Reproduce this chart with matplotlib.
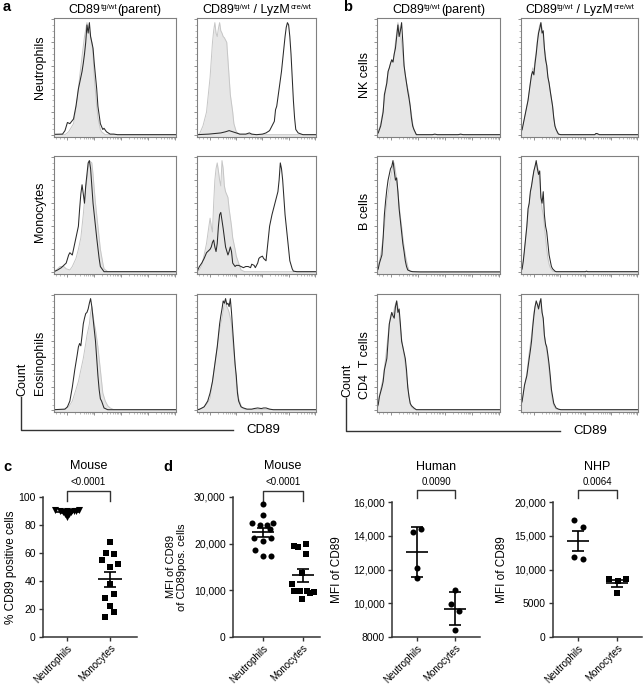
import numpy as np
import matplotlib
matplotlib.use("Agg")
import matplotlib.pyplot as plt
from matplotlib.lines import Line2D

plt.rcParams['font.family'] = ['Liberation Sans', 'DejaVu Sans']

# --- histogram traces: (CD89 position %, count % of max) ---
a_neu_par_fill = [(0,0.5),(9,0.5),(12,3),(16,10),(19,30),(21,50),(23,68),(25,85),(27,97),(28,92),(29,90),(31,80),(32,70),(33,50),(35,25),(36,15),(38,5),(39,3),(42,0.5),(100,0.5)]
a_neu_par_line = [(0,0.8),(7,1),(9,4),(11,11),(13,10),(16,14),(18,25),(20,40),(22,50),(23,55),(24,62),(25,70),(26,80),(27,95),(28,88),(29,97),(30,85),(31,80),(32,75),(33,62),(35,40),(36,25),(38,10),(40,5),(41,6),(43,3),(46,1),(49,1),(52,0.5),(100,0.5)]
a_neu_cre_fill = [(0,0.5),(2,1),(5,8),(8,20),(10,40),(11,50),(12,65),(13,80),(14,90),(15,97),(16,88),(17,85),(18,92),(19,97),(20,90),(21,88),(22,85),(23,84),(25,80),(26,65),(27,50),(28,35),(30,20),(31,10),(33,3),(36,0.5),(100,0.5)]
a_neu_cre_line = [(0,0.5),(10,1),(20,2),(24,3),(27,4),(30,3),(33,2),(36,1),(41,1),(44,2),(46,1),(50,0.5),(55,1),(58,2),(61,4),(63,8),(65,12),(66,22),(67,25),(69,40),(71,55),(72,65),(73,75),(74,85),(75,93),(76,97),(77,95),(78,85),(79,70),(80,50),(81,30),(82,15),(83,5),(85,2),(89,0.5),(100,0.5)]

a_mono_par_fill = [(0,0.5),(3,3),(5,5),(8,5),(10,3),(13,2),(15,5),(18,12),(20,20),(22,30),(23,40),(24,50),(25,62),(26,72),(27,80),(28,90),(29,97),(30,96),(31,95),(32,85),(33,72),(34,60),(36,40),(38,20),(40,8),(41,3),(44,0.5),(100,0.5)]
a_mono_par_line = [(0,0.5),(3,2),(6,4),(8,6),(10,8),(12,15),(13,17),(14,16),(15,15),(17,25),(18,30),(20,40),(21,55),(22,68),(23,76),(24,68),(25,60),(26,75),(27,85),(28,95),(29,97),(30,90),(31,75),(32,60),(33,50),(35,30),(37,12),(38,5),(41,0.5),(100,0.5)]
a_mono_cre_fill = [(0,0.5),(2,2),(4,6),(6,15),(8,25),(10,40),(11,47),(12,40),(13,35),(14,60),(15,80),(16,90),(17,95),(18,88),(19,80),(20,75),(21,97),(22,90),(23,75),(24,70),(26,65),(27,55),(29,40),(30,30),(32,20),(33,14),(35,8),(37,2),(40,0.5),(100,0.5)]
a_mono_cre_line = [(0,0.5),(2,5),(4,8),(6,12),(8,17),(9,18),(11,20),(12,22),(13,26),(14,28),(15,22),(16,18),(17,25),(18,40),(19,50),(20,52),(21,45),(22,38),(23,30),(24,22),(26,15),(27,18),(28,22),(29,18),(30,8),(32,5),(33,6),(35,6),(37,5),(39,4),(41,5),(43,5),(45,4),(46,7),(48,6),(49,4),(51,8),(52,12),(53,13),(55,14),(56,12),(58,10),(59,20),(61,40),(63,50),(65,58),(66,62),(68,70),(69,80),(70,95),(71,90),(72,80),(73,65),(74,50),(75,40),(77,20),(78,10),(80,3),(81,1),(84,0.5),(100,0.5)]

a_eos_par_fill = [(0,0.5),(8,0.5),(12,3),(15,8),(18,18),(20,25),(22,35),(24,45),(26,58),(27,65),(28,70),(29,75),(30,85),(31,90),(32,82),(33,75),(34,70),(36,55),(37,45),(38,35),(39,25),(40,15),(42,8),(44,4),(46,2),(49,0.5),(100,0.5)]
a_eos_par_line = [(0,0.5),(5,0.8),(9,1),(11,3),(13,8),(15,20),(17,35),(19,48),(20,55),(21,58),(22,56),(23,65),(24,75),(25,80),(26,84),(27,85),(28,88),(29,93),(30,97),(31,90),(32,80),(33,70),(34,60),(35,45),(36,30),(37,18),(38,10),(39,8),(41,2),(44,0.5),(100,0.5)]
a_eos_cre_fill = [(0,0.5),(5,2),(8,5),(11,10),(13,25),(15,40),(17,55),(19,70),(21,80),(23,93),(24,95),(25,90),(26,88),(27,85),(28,80),(29,75),(30,62),(31,50),(32,40),(33,25),(35,10),(37,4),(38,2),(41,0.5),(100,0.5)]
a_eos_cre_line = [(0,0.5),(2,0.8),(6,3),(9,8),(11,15),(13,25),(15,40),(17,55),(19,75),(20,82),(21,88),(22,95),(23,93),(24,97),(25,92),(26,93),(27,90),(28,97),(29,85),(30,70),(31,55),(32,40),(33,30),(34,15),(35,8),(37,3),(39,2),(42,1),(46,1),(48,1.5),(51,2),(54,1.5),(56,2),(58,2),(61,1),(64,0.5),(100,0.5)]

b_nk_par_fill = [(0,1),(1,3),(3,10),(5,22),(7,38),(8,48),(10,58),(12,65),(13,63),(14,70),(15,80),(16,88),(17,97),(18,92),(19,88),(20,80),(21,70),(22,60),(23,52),(24,45),(26,35),(27,25),(29,10),(30,5),(32,0.5),(100,0.5)]
b_nk_par_line = [(0,1),(1,2),(3,8),(5,20),(6,35),(8,45),(9,55),(10,58),(11,62),(12,65),(13,63),(14,70),(15,75),(16,85),(17,95),(18,85),(19,90),(20,97),(21,80),(22,60),(23,52),(24,45),(25,38),(26,32),(27,25),(28,15),(29,8),(30,5),(32,0.5),(45,0.5),(47,1),(49,0.5),(66,0.5),(68,1),(70,0.5),(100,0.5)]
b_nk_cre_fill = [(0,2),(2,10),(4,20),(6,30),(8,45),(9,52),(10,58),(11,55),(12,65),(13,72),(14,82),(15,90),(16,95),(17,97),(18,92),(19,85),(20,75),(21,68),(22,60),(23,50),(24,45),(25,38),(27,25),(28,15),(29,8),(31,2),(33,0.5),(100,0.5)]
b_nk_cre_line = [(0,3),(1,5),(3,15),(5,25),(6,30),(8,45),(9,52),(10,55),(11,52),(12,62),(13,70),(14,80),(15,88),(16,92),(17,97),(18,88),(19,90),(20,75),(21,65),(22,60),(23,50),(24,45),(25,38),(27,25),(28,15),(29,8),(30,5),(32,1),(34,0.5),(63,0.5),(64,1.5),(65,1.5),(67,0.5),(100,0.5)]

b_b_par_fill = [(0,2),(1,5),(3,15),(5,30),(7,50),(8,62),(10,75),(11,82),(12,88),(13,93),(14,95),(15,88),(16,80),(17,70),(18,58),(19,48),(20,40),(21,30),(22,22),(23,15),(24,10),(25,5),(26,2),(28,0.5),(100,0.5)]
b_b_par_line = [(0,1),(1,3),(2,8),(4,15),(5,30),(6,50),(7,62),(8,72),(9,80),(10,85),(11,90),(12,92),(13,97),(14,88),(15,80),(16,82),(17,70),(18,55),(19,45),(20,35),(21,25),(22,18),(23,10),(24,5),(25,2),(27,1),(29,0.5),(35,0.3),(100,0.3)]
b_b_cre_fill = [(0,2),(1,4),(3,18),(5,40),(7,58),(8,68),(9,75),(10,80),(11,88),(12,92),(13,95),(14,92),(15,88),(16,80),(17,65),(18,55),(19,50),(20,40),(21,30),(22,20),(23,12),(24,7),(25,4),(27,1),(29,0.5),(100,0.5)]
b_b_cre_line = [(0,1),(1,3),(2,10),(3,20),(5,40),(6,55),(7,60),(8,70),(9,75),(10,82),(11,88),(12,92),(13,97),(14,90),(15,85),(16,88),(17,65),(18,60),(19,70),(20,50),(21,40),(22,35),(23,25),(24,15),(25,10),(26,5),(27,3),(29,1),(30,0.5),(55,0.5),(56,1),(57,0.5),(100,0.5)]

b_cd4_par_fill = [(0,3),(1,8),(3,18),(5,28),(7,45),(8,55),(9,65),(10,75),(11,82),(12,85),(13,82),(14,88),(15,92),(16,95),(17,90),(18,82),(19,72),(20,62),(21,55),(22,48),(23,40),(24,30),(25,22),(26,12),(27,6),(28,3),(30,1),(32,0.5),(100,0.5)]
b_cd4_par_line = [(0,2),(1,5),(2,12),(4,20),(5,25),(6,35),(8,45),(9,60),(10,75),(11,80),(12,85),(13,82),(14,80),(15,90),(16,95),(17,85),(18,88),(19,75),(20,60),(21,55),(22,50),(23,45),(24,35),(25,20),(26,12),(27,6),(28,4),(30,2),(32,0.5),(100,0.5)]
b_cd4_cre_fill = [(0,3),(1,8),(3,20),(5,32),(7,50),(9,65),(10,75),(11,85),(12,90),(13,93),(14,92),(15,90),(16,95),(17,92),(18,85),(19,78),(20,65),(21,58),(22,52),(23,45),(24,35),(25,25),(26,15),(27,8),(28,4),(30,1),(33,0.5),(100,0.5)]
b_cd4_cre_line = [(0,5),(1,8),(3,22),(5,30),(7,45),(8,52),(9,60),(10,72),(11,82),(12,90),(13,95),(14,92),(15,88),(16,93),(17,97),(18,85),(19,80),(20,65),(21,58),(22,55),(23,48),(24,40),(25,30),(26,18),(27,12),(28,6),(30,2),(32,1),(34,0.5),(100,0.5)]

# --- scatter data (value, x jitter) ---
groups = ["Neutrophils", "Monocytes"]
c_neu = [91, 91, 90, 90, 90, 89, 89, 88, 88, 87, 86, 90]
c_neu_dx = [-0.27, 0.27, -0.17, 0.17, 0, -0.1, 0.1, -0.05, 0.05, 0, 0, 0.22]
c_mono = [68, 60, 59, 55, 52, 50, 38, 31, 28, 22, 18, 14]
c_mono_dx = [0, -0.1, 0.09, -0.19, 0.18, 0, 0, 0.1, -0.11, 0, 0.09, -0.11]

dm_neu = [28400, 26200, 24400, 24100, 24100, 24400, 23200, 21300, 20600, 21300, 18700, 17400, 17400]
dm_neu_dx = [0, 0, -0.27, -0.08, 0.1, 0.25, 0.18, -0.22, 0, 0.21, -0.19, 0, 0.2]
dm_mono = [19600, 19200, 20000, 17800, 13700, 11400, 9900, 9900, 9800, 9400, 9600, 8100]
dm_mono_dx = [-0.22, -0.11, 0.08, 0.08, -0.02, -0.28, -0.21, -0.08, 0.1, 0.18, 0.27, -0.02]

dh_neu = [14200, 14400, 12070, 11510]
dh_neu_dx = [-0.11, 0.1, 0, 0]
dh_mono = [10780, 9960, 9570, 8400]
dh_mono_dx = [0, -0.1, 0.11, 0]

dn_neu = [17320, 16230, 11910, 11560]
dn_neu_dx = [-0.1, 0.12, -0.1, 0.12]
dn_mono = [8540, 8290, 8640, 6460]
dn_mono_dx = [-0.2, 0.02, 0.22, 0]

W, H = 643, 685
fig = plt.figure(figsize=(W / 100, H / 100), dpi=100)
renderer = fig.canvas.get_renderer()


def px_axes(l, t, r, b):
    return fig.add_axes([l / W, 1 - b / H, (r - l) / W, (b - t) / H])


def ftext(x, y, s, **kw):
    return fig.text(x / W, 1 - y / H, s, **kw)


def fline(xs, ys):
    fig.add_artist(Line2D([x / W for x in xs], [1 - y / H for y in ys],
                          color="#333333", lw=1.0))


def sup_title(xc, y, pieces, fs=9):
    # pieces: (text, is_superscript); laid out left to right, centred on xc
    arts = []
    for s, sup in pieces:
        t = ftext(0, y - (4 if sup else 0), s, fontsize=fs * 0.62 if sup else fs,
                  ha="left", va="baseline")
        arts.append(t)
    widths = [a.get_window_extent(renderer).width for a in arts]
    x = xc - sum(widths) / 2
    for a, w in zip(arts, widths):
        a.set_x(x / W)
        x += w


# histogram ticks on a pseudo-log axis
xmaj = [11, 33, 55, 77, 99]
xmin = [2, 5, 8] + [m + 22 * np.log10(k) for m in xmaj[:-1] for k in range(2, 10)]


def hist(ax, fill, line):
    fx, fy = zip(*fill)
    lx, ly = zip(*line)
    ax.fill_between(fx, fy, -2, color="#e6e6e6", lw=0)
    ax.plot(fx, fy, color="#c6c6c6", lw=0.7)
    ax.plot(lx, ly, color="#2a2a2a", lw=0.75)
    ax.set_xlim(0, 100)
    ax.set_ylim(-1.5, 101)
    for s in ax.spines.values():
        s.set_color("#808080")
        s.set_linewidth(0.8)
    ax.set_xticks(xmaj)
    ax.set_xticks(xmin, minor=True)
    ax.set_yticks([0, 20, 40, 60, 80, 100])
    ax.set_yticks(np.arange(0, 101, 5), minor=True)
    ax.tick_params(which="major", length=2.2, width=0.5, color="#666666",
                   labelbottom=False, labelleft=False)
    ax.tick_params(which="minor", length=1.1, width=0.4, color="#888888")


cols = [(54, 176), (197, 316), (377, 500), (521, 638)]
rows = [(18, 137), (156, 274), (294, 412)]
panel_traces = [
    [(a_neu_par_fill, a_neu_par_line), (a_neu_cre_fill, a_neu_cre_line),
     (b_nk_par_fill, b_nk_par_line), (b_nk_cre_fill, b_nk_cre_line)],
    [(a_mono_par_fill, a_mono_par_line), (a_mono_cre_fill, a_mono_cre_line),
     (b_b_par_fill, b_b_par_line), (b_b_cre_fill, b_b_cre_line)],
    [(a_eos_par_fill, a_eos_par_line), (a_eos_cre_fill, a_eos_cre_line),
     (b_cd4_par_fill, b_cd4_par_line), (b_cd4_cre_fill, b_cd4_cre_line)],
]
for ri, (t, b) in enumerate(rows):
    for ci, (l, r) in enumerate(cols):
        ax = px_axes(l, t, r, b)
        hist(ax, *panel_traces[ri][ci])

title_par = [("CD89", False), ("tg/wt", True), ("(parent)", False)]
title_cre = [("CD89", False), ("tg/wt", True), (" / LyzM", False), ("cre/wt", True)]
for (l, r), pcs in zip(cols, [title_par, title_cre, title_par, title_cre]):
    sup_title((l + r) / 2, 13, pcs)

row_lab_a = ["Neutrophils", "Monocytes", "Eosinophils"]
row_lab_b = ["NK cells", "B cells", "CD4  T cells"]
for s, y in zip(row_lab_a, [67, 212, 363]):
    ftext(40, y, s, rotation=90, ha="center", va="center", fontsize=9)
for s, y in zip(row_lab_b, [75, 211, 365]):
    ftext(365, y, s, rotation=90, ha="center", va="center", fontsize=9)

# Count / CD89 axis brackets
for x0, x1, y0 in [(21, 233, 430), (346, 560, 431)]:
    fline([x0, x0, x1], [y0 - 33, y0, y0])
    ftext(x0 + 1, y0 - 34, "Count", rotation=90, ha="center", va="bottom", fontsize=9)
    ftext(x1 + 13, y0, "CD89", ha="left", va="center", fontsize=9.5)

for s, x, y in [("a", 3, 7), ("b", 343, 7), ("c", 3, 467), ("d", 163, 467)]:
    ftext(x, y, s, ha="left", va="center", fontsize=10.5, fontweight="bold")


# --- dot plots ---
def dot_panel(box, xlim, ylim, yticks, ylabels, data, markers, title, pval,
              ylabel, ylab_x, err="sem", br=(1.04, 0.975, 1.11), title_y=1.22,
              ylab_fs=8.5):
    ax = px_axes(*box)
    for i, (vals, dx) in enumerate(data):
        vals = np.array(vals, float)
        ax.scatter(i + np.array(dx), vals, marker=markers[i],
                   s=26 if markers[i] == "v" else 19, color="black",
                   lw=0, zorder=3, clip_on=False)
        m = vals.mean()
        sd = vals.std(ddof=1)
        e = sd if err == "sd" else sd / np.sqrt(len(vals))
        ax.hlines(m, i - 0.28, i + 0.28, color="black", lw=1.2, zorder=4)
        ax.errorbar(i, m, yerr=e, fmt="none", ecolor="black", elinewidth=1.2,
                    capsize=4.5, capthick=1.2, zorder=4)
    ax.set_xlim(*xlim)
    ax.set_ylim(*ylim)
    ax.set_yticks(yticks)
    ax.set_yticklabels(ylabels, fontsize=7.5)
    ax.set_xticks([0, 1])
    ax.set_xticklabels(groups, rotation=45, ha="right", rotation_mode="anchor",
                       fontsize=7)
    for s in ["top", "right"]:
        ax.spines[s].set_visible(False)
    for s in ["left", "bottom"]:
        ax.spines[s].set_linewidth(1.1)
        ax.spines[s].set_color("#333333")
    ax.tick_params(length=3.2, width=1.0, color="#333333", pad=2)
    ax.tick_params(axis="x", pad=1)
    ax.set_ylabel(ylabel, fontsize=ylab_fs, linespacing=1.1)
    ax.yaxis.set_label_coords(ylab_x, 0.5)
    tr = ax.get_xaxis_transform()
    top, leg, ty = br
    ax.plot([0, 0, 1, 1], [leg, top, top, leg], transform=tr, color="#333333",
            lw=1.0, clip_on=False)
    ax.text(0.5, ty, pval, transform=tr, ha="center", va="center", fontsize=7)
    ax.text(0.5, title_y, title, transform=tr, ha="center", va="center", fontsize=9)
    return ax


dot_panel((43, 497, 137, 637), (-0.56, 1.63), (0, 100), [0, 20, 40, 60, 80, 100],
          ["0", "20", "40", "60", "80", "100"],
          [(c_neu, c_neu_dx), (c_mono, c_mono_dx)], ["v", "s"],
          "Mouse", "<0.0001", "% CD89 positive cells", -0.28)

dot_panel((233, 497, 320, 637), (-0.75, 1.43), (0, 30000), [0, 10000, 20000, 30000],
          ["0", "10,000", "20,000", "30,000"],
          [(dm_neu, dm_neu_dx), (dm_mono, dm_mono_dx)], ["o", "s"],
          "Mouse", "<0.0001", "MFI of CD89\nof CD89pos. cells", -0.53, ylab_fs=8)

dot_panel((392, 502, 480, 637), (-0.66, 1.66), (8000, 16000),
          [8000, 10000, 12000, 14000, 16000],
          ["8000", "10,000", "12,000", "14,000", "16,000"],
          [(dh_neu, dh_neu_dx), (dh_mono, dh_mono_dx)], ["o", "o"],
          "Human", "0.0090", "MFI of CD89", -0.56, err="sd",
          br=(1.09, 1.03, 1.15), title_y=1.26)

dot_panel((553, 502, 642, 637), (-0.64, 1.64), (0, 20000),
          [0, 5000, 10000, 15000, 20000],
          ["0", "5000", "10,000", "15,000", "20,000"],
          [(dn_neu, dn_neu_dx), (dn_mono, dn_mono_dx)], ["o", "s"],
          "NHP", "0.0064", "MFI of CD89", -0.51,
          br=(1.09, 1.03, 1.15), title_y=1.26)

fig.savefig("out.png", dpi=100)
